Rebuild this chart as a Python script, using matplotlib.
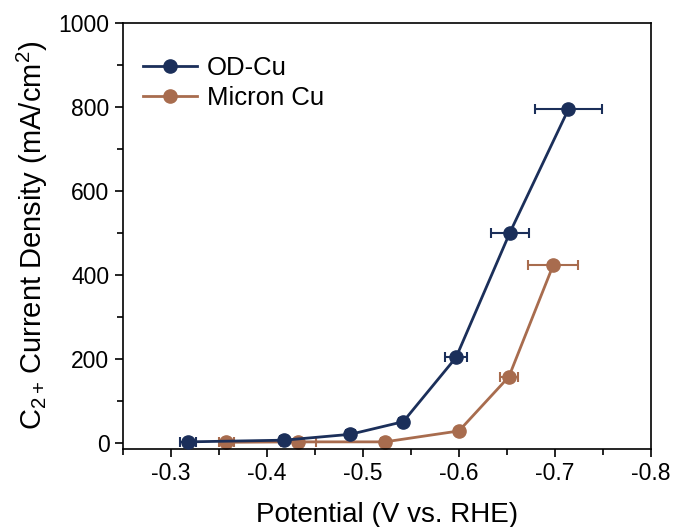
import matplotlib
matplotlib.use("Agg")
import matplotlib.pyplot as plt
import matplotlib.ticker as mt
from matplotlib.lines import Line2D

plt.rcParams['font.family'] = ['Liberation Sans', 'DejaVu Sans']
plt.rcParams['mathtext.fontset'] = 'custom'
plt.rcParams['mathtext.rm'] = 'Liberation Sans'
plt.rcParams['mathtext.it'] = 'Liberation Sans'

od_x = [-0.318, -0.418, -0.487, -0.542, -0.597, -0.653, -0.714]
od_y = [2, 6, 20, 50, 203, 500, 794]
od_xerr = [0.008, 0.004, 0.005, 0.004, 0.011, 0.020, 0.035]

mc_x = [-0.358, -0.433, -0.523, -0.600, -0.652, -0.698]
mc_y = [1, 2, 2, 28, 157, 422]
mc_xerr = [0.008, 0.018, 0.004, 0.003, 0.009, 0.026]

labels = ['OD-Cu', 'Micron Cu']
od_color = '#1b2f5a'
mc_color = '#a86c4e'

fig = plt.figure(figsize=(6.74, 5.27), dpi=100)
ax = fig.add_axes([0.182, 0.148, 0.784, 0.809])

ax.errorbar(od_x, od_y, xerr=od_xerr, color=od_color, marker='o', markersize=9.5,
            linewidth=2.0, elinewidth=1.5, capsize=3.5, capthick=1.5, zorder=3)
ax.errorbar(mc_x, mc_y, xerr=mc_xerr, color=mc_color, marker='o', markersize=9.5,
            linewidth=2.0, elinewidth=1.5, capsize=3.5, capthick=1.5, zorder=2)

ax.set_xlim(-0.25, -0.8)
ax.set_ylim(-15, 1000)
ax.xaxis.set_major_locator(mt.MultipleLocator(0.1))
ax.xaxis.set_minor_locator(mt.MultipleLocator(0.05))
ax.yaxis.set_major_locator(mt.MultipleLocator(200))
ax.yaxis.set_minor_locator(mt.MultipleLocator(100))
ax.tick_params(which='major', direction='out', length=6, width=1.2, labelsize=16.5)
ax.tick_params(which='minor', direction='out', length=4, width=1.2)
for s in ax.spines.values():
    s.set_linewidth(1.2)
ax.xaxis.set_major_formatter(mt.FuncFormatter(lambda v, p: f"{v:.1f}"))

ax.set_xlabel('Potential (V vs. RHE)', fontsize=20, labelpad=12)
ax.set_ylabel(r'C$_{2+}\,$Current Density (mA/cm$^2$)', fontsize=21, labelpad=6)

handles = [Line2D([], [], color=od_color, marker='o', markersize=9.5, linewidth=2.0),
           Line2D([], [], color=mc_color, marker='o', markersize=9.5, linewidth=2.0)]
ax.legend(handles, labels, loc='upper left', bbox_to_anchor=(-0.011, 0.981), frameon=False,
          fontsize=18.5, handlelength=2.1, handletextpad=0.4, labelspacing=0.2,
          borderaxespad=0.6)

fig.savefig('out.png', dpi=100)
